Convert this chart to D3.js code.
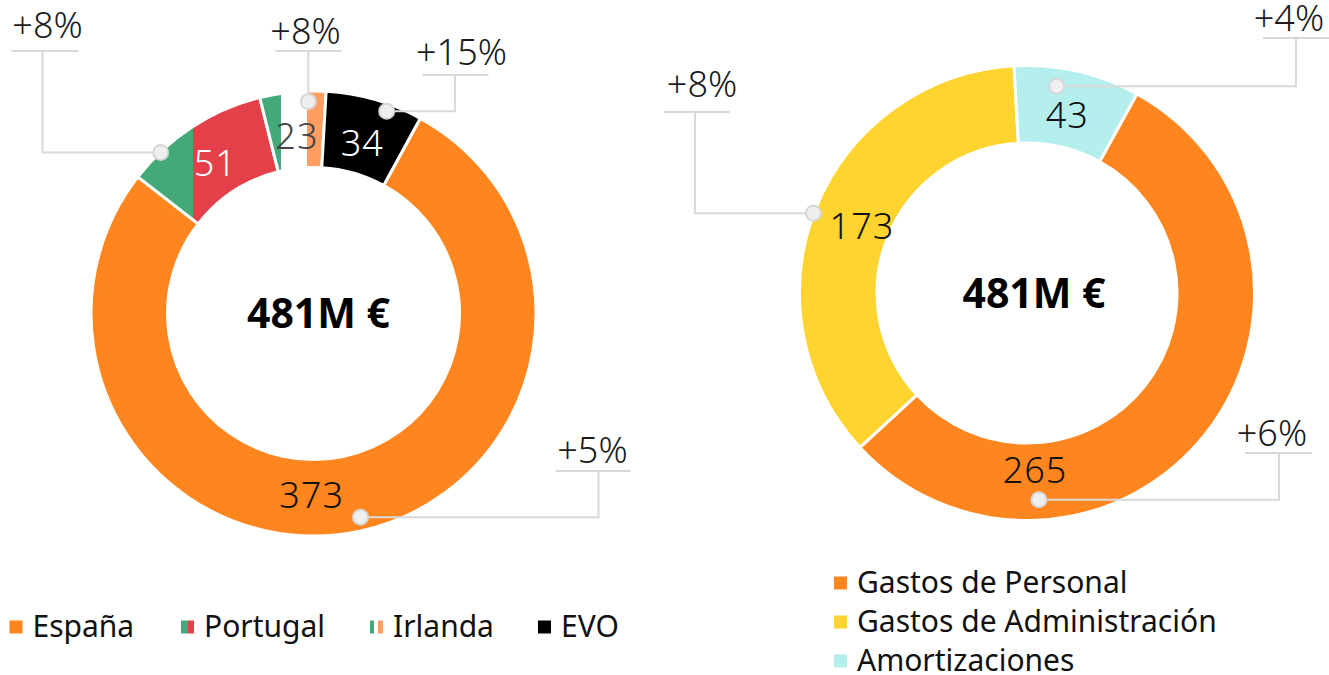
<!DOCTYPE html>
<html>
<head>
<meta charset="utf-8">
<script src="https://cdn.jsdelivr.net/npm/d3@7"></script>
<style>
  body { margin: 0; background: #fff; }
  text { font-family: "Noto Sans", sans-serif; }
</style>
</head>
<body>
<div id="chart"></div>
<script>
// data
var leftCats = ["España", "Portugal", "Irlanda", "EVO"];
var leftValues = [373, 51, 23, 34];
var leftGrowth = ["+5%", "+8%", "+8%", "+15%"];

var rightCats = ["Gastos de Personal", "Gastos de Administración", "Amortizaciones"];
var rightValues = [265, 173, 43];
var rightGrowth = ["+6%", "+8%", "+4%"];

var totalLabel = "481M €";

var svgWidth = 1329;
var svgHeight = 675;

var svg = d3.select("#chart")
  .append("svg")
  .attr("width", svgWidth)
  .attr("height", svgHeight);

var defs = svg.append("defs");

var green = "#43a978";
var red = "#e3404a";
var lightOrange = "#ff9e60";
var orange = "#ff851f";

// striped fills (flag style), x coords relative to the donut centre
function stripes(id, x1, x2, stops, userSpace) {
  var g = defs.append("linearGradient").attr("id", id);
  if (userSpace) {
    g.attr("gradientUnits", "userSpaceOnUse")
      .attr("x1", x1).attr("x2", x2)
      .attr("y1", 0).attr("y2", 0);
  }
  stops.forEach(function(p) {
    g.append("stop").attr("offset", p[0]).attr("stop-color", p[1]);
  });
}
stripes("pt", -220, -120, [[0, green], [0.995, green], [1, red]], true);
stripes("ie", -40, 0, [[0, green], [0.175, green], [0.175, "#fff"], [0.825, "#fff"], [0.825, lightOrange], [1, lightOrange]], true);

// legend icons
stripes("ptIcon", 0, 1, [[0, green], [0.5, green], [0.5, red], [1, red]], false);
stripes("ieIcon", 0, 1, [[0, green], [0.3, green], [0.3, "#fff"], [0.65, "#fff"], [0.65, lightOrange], [1, lightOrange]], false);

var deg = Math.PI / 180;

function donut(opts) {
  var g = svg.append("g")
    .attr("transform", `translate(${opts.cx}, ${opts.cy})`);

  var pie = d3.pie()
    .sort(null)
    .value(d => d.value)
    .startAngle(opts.start * deg)
    .endAngle(opts.start * deg + 2 * Math.PI);

  var arc = d3.arc()
    .innerRadius(opts.inner)
    .outerRadius(opts.outer);

  var data = opts.cats.map((c, i) => ({ cat: c, value: opts.values[i], growth: opts.growth[i] }));
  var arcs = pie(data);

  g.selectAll("path.slice")
    .data(arcs)
    .enter()
    .append("path")
    .attr("class", "slice")
    .attr("d", arc)
    .attr("fill", (d, i) => opts.fills[i])
    .attr("stroke", "#fff")
    .attr("stroke-width", 3);

  // value labels
  g.selectAll("text.val")
    .data(arcs)
    .enter()
    .append("text")
    .attr("class", "val")
    .attr("transform", function(d, i) {
      var a = opts.labelAngle[i] != null ? opts.labelAngle[i] * deg : (d.startAngle + d.endAngle) / 2;
      var r = opts.labelR[i];
      return `translate(${r * Math.sin(a)}, ${-r * Math.cos(a)})`;
    })
    .attr("text-anchor", "middle")
    .attr("dy", "0.36em")
    .attr("font-size", 36)
    .attr("font-weight", 300)
    .attr("letter-spacing", 1)
    .attr("fill", (d, i) => opts.labelColors[i])
    .text(d => d.value);

  // callouts
  arcs.forEach(function(d, i) {
    var c = opts.callouts[i];
    var px = c.r * Math.sin(c.angle * deg);
    var py = -c.r * Math.cos(c.angle * deg);
    var ex = c.elbow == null ? px : c.elbow;
    g.append("path")
      .attr("d", d3.line()([[px, py], [ex, py], [ex, c.uy]]))
      .attr("fill", "none")
      .attr("stroke", "#d9d9d9")
      .attr("stroke-width", 2);
    g.append("line")
      .attr("x1", c.ux[0]).attr("x2", c.ux[1])
      .attr("y1", c.uy).attr("y2", c.uy)
      .attr("stroke", "#d9d9d9")
      .attr("stroke-width", 2);
    g.append("circle")
      .attr("cx", px).attr("cy", py)
      .attr("r", 7.5)
      .attr("fill", "#efefef")
      .attr("stroke", "#d6d6d6")
      .attr("stroke-width", 2);
    g.append("text")
      .attr("x", c.tx)
      .attr("y", c.ty)
      .attr("text-anchor", "middle")
      .attr("font-size", 36)
      .attr("font-weight", 300)
      .attr("fill", "#1a1a1a")
      .text(d.data.growth);
  });

  g.append("text")
    .attr("x", opts.totalDx)
    .attr("y", 0)
    .attr("dy", "0.36em")
    .attr("text-anchor", "middle")
    .attr("font-size", 41)
    .attr("font-weight", 700)
    .attr("fill", "#000")
    .text(totalLabel);
}

donut({
  cx: 313.5, cy: 313.5, outer: 222.5, inner: 146,
  start: 28.7,
  cats: leftCats, values: leftValues, growth: leftGrowth,
  fills: [orange, "url(#pt)", "url(#ie)", "#000"],
  labelColors: ["#111", "#fff", "#444", "#fff"],
  labelAngle: [180.6, null, null, null],
  labelR: [182, 180, 178, 177],
  totalDx: 5,
  callouts: [
    { angle: 167, r: 209, elbow: 285, uy: 157.5, ux: [242, 317], tx: 279, ty: 149.5 },
    { angle: 316.5, r: 222, elbow: -271, uy: -262.5, ux: [-302, -235], tx: -266, ty: -276 },
    { angle: 358.6, r: 212, elbow: null, uy: -262.5, ux: [-38, 28], tx: -8, ty: -270 },
    { angle: 19.9, r: 215, elbow: 141.5, uy: -238.5, ux: [109, 175], tx: 148, ty: -249 }
  ]
});

donut({
  cx: 1027, cy: 293, outer: 227.5, inner: 150,
  start: 28.9,
  cats: rightCats, values: rightValues, growth: rightGrowth,
  fills: [orange, "#ffd42f", "#b4efed"],
  labelColors: ["#111", "#111", "#111"],
  labelAngle: [177.4, null, null],
  labelR: [177, 178, 182],
  totalDx: 7,
  callouts: [
    { angle: 176.7, r: 207, elbow: 252, uy: 160, ux: [218, 285], tx: 245, ty: 153 },
    { angle: 290.5, r: 228, elbow: -332, uy: -181, ux: [-363, -297], tx: -325, ty: -196 },
    { angle: 8.2, r: 209, elbow: 269, uy: -255, ux: [236, 302], tx: 262, ty: -262 }
  ]
});

// legends
var leftIcons = [orange, "url(#ptIcon)", "url(#ieIcon)", "#000"];
var leftLegendX = [9.5, 181, 370, 538];
var leftLegend = svg.append("g").attr("transform", "translate(0, 627)");
leftCats.forEach(function(c, i) {
  leftLegend.append("rect")
    .attr("x", leftLegendX[i]).attr("y", -6.5)
    .attr("width", 13).attr("height", 13)
    .attr("fill", leftIcons[i]);
  leftLegend.append("text")
    .attr("x", leftLegendX[i] + 23)
    .attr("y", 0)
    .attr("dy", "0.33em")
    .attr("font-size", 30)
    .attr("fill", "#111")
    .text(c);
});

var rightIcons = [orange, "#ffd42f", "#b4efed"];
var rightLegend = svg.append("g").attr("transform", "translate(834, 583)");
rightCats.forEach(function(c, i) {
  var y = i * 39;
  rightLegend.append("rect")
    .attr("x", 0).attr("y", y - 6.5)
    .attr("width", 13).attr("height", 13)
    .attr("fill", rightIcons[i]);
  rightLegend.append("text")
    .attr("x", 23)
    .attr("y", y)
    .attr("dy", "0.33em")
    .attr("font-size", 30)
    .attr("fill", "#111")
    .text(c);
});
</script>
</body>
</html>
